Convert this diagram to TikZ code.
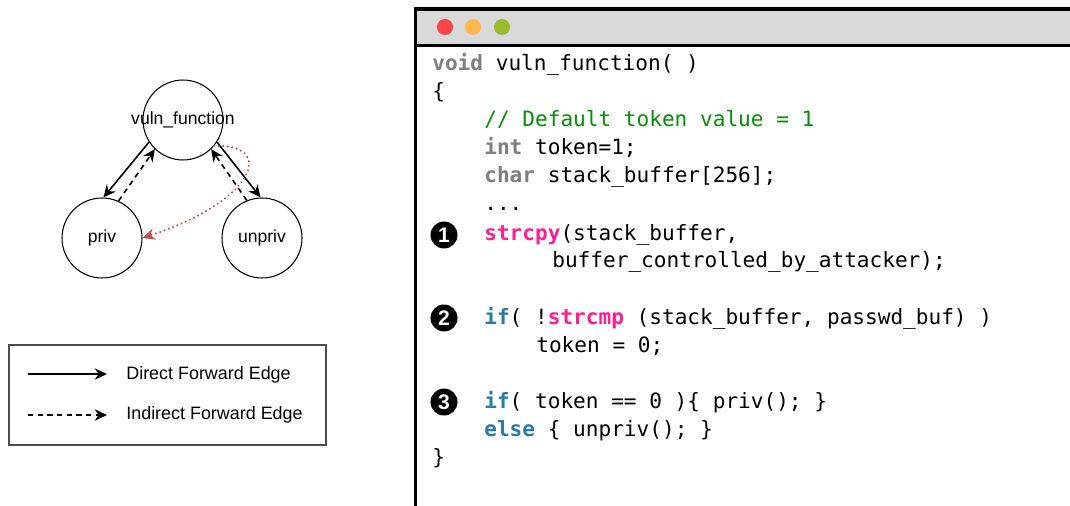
\documentclass[tikz,border=0pt]{standalone}
\usepackage{fontspec}
\setmainfont{Liberation Sans}
\newfontfamily\codefont{DejaVu Sans Mono}
\usetikzlibrary{arrows.meta}
\definecolor{kwgray}{HTML}{7F7F7F}
\definecolor{kwblue}{HTML}{2A7CA6}
\definecolor{fnpink}{HTML}{FF1F8E}
\definecolor{cmtgreen}{HTML}{0A8A0A}
\definecolor{edgered}{HTML}{B85450}
\definecolor{bargray}{HTML}{D9D9D9}
\definecolor{dotred}{HTML}{FF4545}
\definecolor{dotorange}{HTML}{FFB84D}
\definecolor{dotgreen}{HTML}{9BBB2F}
\newcommand{\kwtype}[1]{{\bfseries\color{kwgray}#1}}
\newcommand{\kwctl}[1]{{\bfseries\color{kwblue}#1}}
\newcommand{\kwfn}[1]{{\bfseries\color{fnpink}#1}}
\tikzset{
	fnode/.style={draw, circle, minimum size=1.6cm, inner sep=0pt, line width=0.6pt, font=\fontsize{10}{12}\selectfont},
	direct/.style={line width=0.9pt, -{Stealth[length=7pt, width=6.5pt]}},
	indirect/.style={direct, dash pattern=on 3pt off 2.5pt},
	leak/.style={edgered, line width=1.3pt, dash pattern=on 0.01pt off 2.6pt, line cap=round, -{Stealth[length=7pt, width=6.5pt, line cap=butt]}},
	codeline/.style={anchor=base west, inner sep=0pt, font=\codefont\fontsize{12}{14}\selectfont},
	stepnum/.style={circle, fill=black, text=white, minimum size=0.54cm, inner sep=0pt, font=\bfseries\fontsize{12}{12}\selectfont},
	legendtext/.style={anchor=west, inner sep=0pt, font=\fontsize{10.2}{12}\selectfont}
}
\begin{document}
\begin{tikzpicture}[x=0.02cm, y=-0.02cm]
		\useasboundingbox (0,0) rectangle (1070,506);

		\node[fnode] (vuln) at (183,120) {\makebox[0pt]{vuln\_function}};
		\node[fnode] (priv) at (102,238) {priv};
		\node[fnode] (unpriv) at (262,238) {unpriv};

		\draw[direct] (vuln.213) -- (priv.88);
		\draw[indirect] (priv.66) -- (vuln.226);
		\draw[direct] (vuln.-33) -- (unpriv.92);
		\draw[indirect] (unpriv.112) -- (vuln.-46);
		\draw[leak] (vuln.-40) .. controls (275,143) and (258,200) .. (priv.east);

		\draw[black!70, line width=0.6pt] (9,345) rectangle (326,445);
		\coordinate (d1) at (28,374);
		\coordinate (d2) at (107,374);
		\coordinate (i1) at (28,415);
		\coordinate (i2) at (107,415);
		\draw[direct] (d1) -- (d2);
		\draw[indirect] (i1) -- (i2);
		\node[legendtext] (dlabel) at (126,375) {Direct Forward Edge};
		\node[legendtext] (ilabel) at (126,415) {Indirect Forward Edge};

		\draw[line width=2pt, fill=white] (415.5,530) -- (415.5,9) -- (1090,9);
		\draw[line width=2pt, fill=bargray] (415.5,9) rectangle (1090,45.5);
		\fill[dotred] (445,27) circle (8);
		\fill[dotorange] (473,27) circle (8);
		\fill[dotgreen] (502,27) circle (8);

		\node[codeline] (l1) at (432,71) {\kwtype{void} vuln\_function( )};
		\node[codeline] (l2) at (432,99) {\{};
		\node[codeline] (l3) at (484,127) {\color{cmtgreen}// Default token value = 1};
		\node[codeline] (l4) at (484,155) {\kwtype{int} token=1;};
		\node[codeline] (l5) at (484,183) {\kwtype{char} stack\_buffer[256];};
		\node[codeline] (l6) at (484,211) {...};
		\node[codeline] (l7) at (484,240) {\kwfn{strcpy}(stack\_buffer,};
		\node[codeline] (l8) at (552,268) {buffer\_controlled\_by\_attacker);};
		\node[codeline] (l9) at (484,324) {\kwctl{if}( !\kwfn{strcmp} (stack\_buffer, passwd\_buf) )};
		\node[codeline] (l10) at (536,352) {token = 0;};
		\node[codeline] (l11) at (484,408) {\kwctl{if}( token == 0 )\{ priv(); \}};
		\node[codeline] (l12) at (484,436) {\kwctl{else} \{ unpriv(); \}};
		\node[codeline] (l13) at (432,464) {\}};

		\node[stepnum] (s1) at (444,235) {1};
		\node[stepnum] (s2) at (444,318) {2};
		\node[stepnum] (s3) at (444,402) {3};
	\end{tikzpicture}
\end{document}
